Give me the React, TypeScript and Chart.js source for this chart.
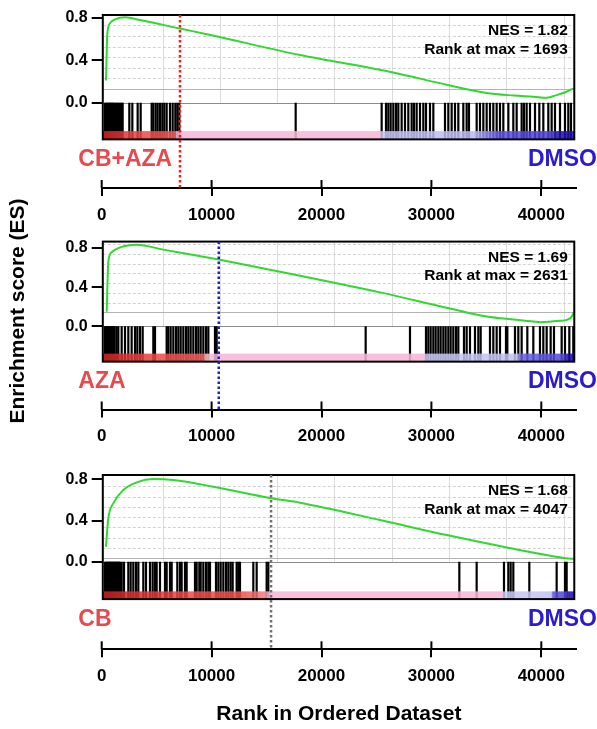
import React, { useEffect, useRef } from 'react';
import { Chart, registerables } from 'chart.js';

Chart.register(...registerables);

const FONT = '"Liberation Sans", Arial, Helvetica, sans-serif';
Chart.defaults.font.family = FONT;

// ---------- shared axis data ----------
const xTickValues = [0, 10000, 20000, 30000, 40000];
const yTickValues = [0, 0.4, 0.8];
const xGridRanks = [5580, 10740, 15940, 21140, 26390, 31590, 36770, 42050];
const X_MAX = 43157;
const BOX_START = 100;
const BOX_END = 43000;

// ---------- panel 1 : CB+AZA vs DMSO ----------
const p1Labels = ['CB+AZA', 'DMSO'];
const p1Stats = ['NES = 1.82', 'Rank at max = 1693'];
const p1Curve = [
  [390, 0.21], [450, 0.45], [510, 0.65], [755, 0.75], [1210, 0.787], [2120, 0.806],
  [3485, 0.78], [7125, 0.70], [10000, 0.637], [18050, 0.45], [26300, 0.29], [31500, 0.167],
  [35000, 0.092], [37500, 0.068], [39300, 0.057], [40500, 0.047], [41400, 0.072],
  [42300, 0.104], [42950, 0.136],
];
const p1Hits = [
  300, 380, 460, 540, 620, 700, 780, 860, 940, 1020, 1100, 1180, 1301, 1400, 1513, 1600, 1725,
  1820, 1907, 2514, 2787, 3272, 3545, 4546, 4698, 4910, 5092, 5305, 5517, 5699, 5911, 6214,
  6457, 6700, 6882, 7064, 17650, 25474, 25868, 26080, 26293, 26535, 26778, 26990, 27293, 27597,
  27900, 28204, 28416, 28658, 28962, 29265, 29508, 29872, 30175, 31237, 31540, 31843, 32146,
  32450, 32905, 33208, 33420, 34118, 34421, 34725, 35028, 35331, 35634, 35938, 36241, 36544,
  37000, 37454, 37758, 38212, 38425, 38667, 38971, 39426, 39820, 40184, 40639, 40942, 41245,
  41700, 42155, 42458, 42701,
];
const p1Zero = 0.129;
const p1EsGrid = [0.229, 0.329, 0.429, 0.529, 0.629, 0.729];
const p1Cut = 7125;
const p1Stops: [number, string][] = [
  [100, '#d42222'], [3500, '#f04545'], [6700, '#f25a5a'], [6800, '#f8b4d6'], [25450, '#f8b4d6'],
  [25550, '#c6c6f6'], [34000, '#b8b8f4'], [36300, '#5a50e4'], [41000, '#4a40dc'],
  [41400, '#2010b4'], [43000, '#2010b4'],
];

// ---------- panel 2 : AZA vs DMSO ----------
const p2Labels = ['AZA', 'DMSO'];
const p2Stats = ['NES = 1.69', 'Rank at max = 2631'];
const p2Curve = [
  [455, 0.148], [600, 0.658], [910, 0.757], [1665, 0.806], [3185, 0.833], [5605, 0.783],
  [10650, 0.681], [18045, 0.517], [25325, 0.346], [31700, 0.181], [35035, 0.099],
  [37500, 0.068], [39275, 0.049], [39885, 0.042], [41700, 0.055], [42315, 0.065],
  [42770, 0.099], [42950, 0.14],
];
const p2Hits = [
  300, 380, 460, 540, 620, 700, 780, 860, 940, 1020, 1100, 1180, 1362, 1513, 1817, 2120, 2423,
  2726, 3030, 3242, 3485, 3727, 4698, 4850, 5911, 6063, 6275, 6518, 6760, 6973, 7185, 7428,
  7671, 7882, 8095, 8337, 8580, 8792, 9005, 9247, 9490, 9702, 10309, 10460, 24018, 28052,
  29508, 29720, 29932, 30175, 30387, 30630, 30842, 31085, 31297, 31540, 31752, 31995, 32237,
  32450, 32965, 33208, 33511, 33966, 34270, 34482, 35331, 35634, 35938, 36241, 36787, 36908,
  37606, 37909, 38212, 38728, 39274, 39880, 40184, 40487, 40851, 41154, 41852, 42155, 42549,
  42913,
];
const p2Zero = 0.141;
const p2EsGrid = [0.241, 0.341, 0.441, 0.541, 0.641, 0.741, 0.841];
const p2Cut = 10650;
const p2Stops: [number, string][] = [
  [100, '#d42222'], [5000, '#f04545'], [9300, '#f26060'], [9450, '#f9c0c8'], [10400, '#f8b4d6'],
  [29350, '#f8b4d6'], [29450, '#c8c8f6'], [37800, '#c0c0f4'], [38100, '#6a60e6'],
  [42000, '#5048dc'], [42400, '#1c0cb0'], [43000, '#1c0cb0'],
];

// ---------- panel 3 : CB vs DMSO ----------
const p3Labels = ['CB', 'DMSO'];
const p3Stats = ['NES = 1.68', 'Rank at max = 4047'];
const p3Curve = [
  [390, 0.146], [600, 0.421], [1055, 0.567], [1965, 0.696], [3185, 0.771], [4695, 0.803],
  [6515, 0.793], [10155, 0.728], [15470, 0.616], [18045, 0.573], [25325, 0.405],
  [31395, 0.259], [36545, 0.146], [41705, 0.043], [42770, 0.029], [42950, 0.029],
];
const p3Hits = [
  300, 380, 460, 540, 620, 700, 780, 860, 940, 1020, 1100, 1180, 1260, 1340, 1420, 1500, 1580,
  1660, 1817, 2029, 2423, 2635, 2878, 3121, 3333, 3788, 4031, 4395, 4637, 4850, 5001, 5304,
  5759, 5911, 6214, 6366, 6881, 7124, 7276, 7579, 7731, 8489, 8641, 8883, 9005, 9247, 9490,
  9702, 9854, 10400, 10612, 10824, 11067, 11310, 11522, 11734, 11916, 12280, 12432, 12583,
  13796, 14100, 15010, 15162, 32541, 34118, 36605, 36999, 37211, 37454, 38910, 41397, 42155,
  42307,
];
const p3Zero = 0.033;
const p3EsGrid = [0.133, 0.233, 0.333, 0.433, 0.533, 0.633, 0.733];
const p3Cut = 15410;
const p3Stops: [number, string][] = [
  [100, '#cc2020'], [8000, '#f04848'], [13000, '#f25050'], [14900, '#f28080'], [15100, '#f8b4d6'],
  [36450, '#f8b4d6'], [36550, '#c8c8f6'], [40900, '#c0c0f4'], [41050, '#5a50e2'],
  [42300, '#4a40dc'], [42450, '#1c0cb0'], [43000, '#1c0cb0'],
];

type Panel = {
  labels: string[];
  stats: string[];
  curve: number[][];
  hits: number[];
  zero: number;
  esGrid: number[];
  cut: number;
  cutColor: string;
  stops: [number, string][];
  canvasTop: number;
  canvasHeight: number;
  padTop: number;
  xAxisHeight: number;
  yMin: number;
  yMax: number;
  barTop: number;
  boxBottom: number;
  xTitle: boolean;
};

const panels: Panel[] = [
  {
    labels: p1Labels, stats: p1Stats, curve: p1Curve, hits: p1Hits, zero: p1Zero, esGrid: p1EsGrid,
    cut: p1Cut, cutColor: '#ff1a1a', stops: p1Stops,
    canvasTop: 0, canvasHeight: 228, padTop: 15, xAxisHeight: 40,
    yMin: -0.805, yMax: 0.828, barTop: -0.268, boxBottom: -0.346, xTitle: false,
  },
  {
    labels: p2Labels, stats: p2Stats, curve: p2Curve, hits: p2Hits, zero: p2Zero, esGrid: p2EsGrid,
    cut: p2Cut, cutColor: '#2020d0', stops: p2Stops,
    canvasTop: 228, canvasHeight: 220, padTop: 7.7, xAxisHeight: 38.5,
    yMin: -0.851, yMax: 0.865, barTop: -0.28, boxBottom: -0.362, xTitle: false,
  },
  {
    labels: p3Labels, stats: p3Stats, curve: p3Curve, hits: p3Hits, zero: p3Zero, esGrid: p3EsGrid,
    cut: p3Cut, cutColor: '#707070', stops: p3Stops,
    canvasTop: 448, canvasHeight: 281, padTop: 27, xAxisHeight: 79.7,
    yMin: -0.849, yMax: 0.842, barTop: -0.287, boxBottom: -0.362, xTitle: true,
  },
];

const RED = '#e64a4e';
const BLUE = '#2a1ccc';

function seg(ctx: CanvasRenderingContext2D, x1: number, y1: number, x2: number, y2: number) {
  ctx.beginPath();
  ctx.moveTo(x1, y1);
  ctx.lineTo(x2, y2);
  ctx.stroke();
}

function makePlugin(p: Panel) {
  return {
    id: 'gseaDecor',
    beforeDatasetsDraw(chart: any) {
      const { ctx, chartArea } = chart;
      const x = chart.scales.x;
      const y = chart.scales.y;
      const left = x.getPixelForValue(BOX_START);
      const right = x.getPixelForValue(BOX_END);
      const top = chartArea.top;
      const zeroPx = y.getPixelForValue(0);
      ctx.save();
      ctx.lineWidth = 1;
      ctx.strokeStyle = '#dcdcdc';
      for (const r of xGridRanks) {
        const px = Math.round(x.getPixelForValue(r)) + 0.5;
        seg(ctx, px, top, px, zeroPx);
      }
      ctx.setLineDash([3, 2]);
      ctx.strokeStyle = '#d2d2d2';
      for (const v of p.esGrid) {
        const py = Math.round(y.getPixelForValue(v)) + 0.5;
        seg(ctx, left, py, right, py);
      }
      ctx.setLineDash([]);
      ctx.strokeStyle = '#b4b4b4';
      const zp = Math.round(y.getPixelForValue(p.zero)) + 0.5;
      seg(ctx, left, zp, right, zp);
      ctx.strokeStyle = '#8c8c8c';
      const sp = Math.round(zeroPx) + 0.5;
      seg(ctx, left, sp, right, sp);
      ctx.restore();
    },
    afterDatasetsDraw(chart: any) {
      const { ctx, chartArea } = chart;
      const x = chart.scales.x;
      const y = chart.scales.y;
      const left = x.getPixelForValue(BOX_START);
      const right = x.getPixelForValue(BOX_END);
      const top = chartArea.top;
      const yb0 = y.getPixelForValue(p.barTop);
      const yb1 = y.getPixelForValue(p.boxBottom);
      ctx.save();
      // colour bar (ranked metric)
      const s0 = x.getPixelForValue(p.stops[0][0]);
      const s1 = x.getPixelForValue(p.stops[p.stops.length - 1][0]);
      const g = ctx.createLinearGradient(s0, 0, s1, 0);
      for (const [r, c] of p.stops) {
        g.addColorStop(Math.min(1, Math.max(0, (x.getPixelForValue(r) - s0) / (s1 - s0))), c);
      }
      ctx.globalAlpha = 0.86;
      ctx.fillStyle = g;
      ctx.fillRect(s0, yb0, s1 - s0, yb1 - yb0);
      ctx.globalAlpha = 1;
      // frame
      ctx.strokeStyle = '#000';
      ctx.lineWidth = 2;
      ctx.strokeRect(left, top, right - left, yb1 - top);
      // dotted cut line
      ctx.strokeStyle = p.cutColor;
      ctx.lineWidth = 2.5;
      ctx.setLineDash([2.5, 2.5]);
      const cx = x.getPixelForValue(p.cut);
      seg(ctx, cx, top, cx, chartArea.bottom);
      ctx.setLineDash([]);
      // upper halves of x tick marks
      ctx.strokeStyle = '#000';
      ctx.lineWidth = 2;
      for (const t of x.ticks) {
        const px = x.getPixelForValue(t.value);
        seg(ctx, px, chartArea.bottom - 8, px, chartArea.bottom);
      }
      // phenotype labels
      ctx.font = `bold 23px ${FONT}`;
      ctx.textBaseline = 'alphabetic';
      ctx.fillStyle = RED;
      ctx.textAlign = 'left';
      ctx.fillText(p.labels[0], chartArea.left - 23.4, yb1 + 26.5);
      ctx.fillStyle = BLUE;
      ctx.textAlign = 'right';
      ctx.fillText(p.labels[1], chart.width, yb1 + 26.5);
      // stats
      ctx.font = `bold 15.5px ${FONT}`;
      ctx.fillStyle = '#000';
      ctx.textAlign = 'right';
      ctx.fillText(p.stats[0], right - 6.5, top + 20);
      ctx.fillText(p.stats[1], right - 6.5, top + 38.5);
      ctx.restore();
    },
  };
}

function buildConfig(p: Panel): any {
  return {
    type: 'line',
    data: {
      datasets: [
        {
          type: 'line',
          data: p.curve.map(([r, v]) => ({ x: r, y: v })),
          borderColor: '#30d830',
          borderWidth: 2,
          pointRadius: 0,
          fill: false,
          cubicInterpolationMode: 'monotone',
          order: 0,
        },
        {
          type: 'scatter',
          data: p.hits.map((r) => ({ x: r, y: p.boxBottom / 2 })),
          pointStyle: 'line',
          rotation: 90,
          radius: (c: any) => {
            const ys = c.chart.scales && c.chart.scales.y;
            if (!ys) return 18;
            return Math.abs(ys.getPixelForValue(p.boxBottom) - ys.getPixelForValue(0)) / 2;
          },
          borderColor: '#000',
          borderWidth: 2.2,
          showLine: false,
          order: 1,
        },
      ],
    },
    options: {
      responsive: false,
      animation: false,
      events: [],
      layout: { padding: { top: p.padTop, right: 21, bottom: 0, left: 0 } },
      plugins: {
        legend: { display: false },
        tooltip: { enabled: false },
        title: { display: false },
      },
      scales: {
        x: {
          type: 'linear',
          min: 0,
          max: X_MAX,
          afterBuildTicks: (s: any) => {
            s.ticks = xTickValues.map((v) => ({ value: v }));
          },
          afterFit: (s: any) => {
            s.height = p.xAxisHeight;
          },
          grid: { drawOnChartArea: false, drawTicks: true, tickLength: 8, color: '#000', lineWidth: 2 },
          border: { display: true, color: '#000', width: 2 },
          ticks: {
            color: '#000',
            font: { size: 17, weight: 'bold' },
            padding: 9,
            maxRotation: 0,
            autoSkip: false,
            callback: (v: any) => String(v),
          },
          title: p.xTitle
            ? {
                display: true,
                text: 'Rank in Ordered Dataset',
                color: '#000',
                font: { size: 21, weight: 'bold' },
                padding: { top: 0, bottom: 2.5 },
              }
            : { display: false },
        },
        y: {
          type: 'linear',
          min: p.yMin,
          max: p.yMax,
          afterBuildTicks: (s: any) => {
            s.ticks = yTickValues.map((v) => ({ value: v }));
          },
          afterFit: (s: any) => {
            s.width = 101.7;
          },
          grid: { drawOnChartArea: false, drawTicks: true, tickLength: 10, color: '#000', lineWidth: 2 },
          border: { display: false },
          ticks: {
            color: '#000',
            font: { size: 16, weight: 'bold' },
            padding: 4,
            callback: (v: any) => Number(v).toFixed(1),
          },
        },
      },
    },
    plugins: [makePlugin(p)],
  };
}

function PanelChart({ p }: { p: Panel }) {
  const ref = useRef<HTMLCanvasElement>(null);
  useEffect(() => {
    if (!ref.current) return;
    const chart = new Chart(ref.current, buildConfig(p));
    return () => chart.destroy();
  }, [p]);
  return (
    <canvas
      ref={ref}
      width={597}
      height={p.canvasHeight}
      style={{ position: 'absolute', left: 0, top: p.canvasTop, width: 597, height: p.canvasHeight, display: 'block' }}
    />
  );
}

export default function App() {
  return (
    <div style={{ position: 'absolute', left: 0, top: 0, width: 597, height: 729, background: '#fff', overflow: 'hidden' }}>
      {panels.map((p, i) => (
        <PanelChart key={i} p={p} />
      ))}
      <div
        style={{
          position: 'absolute',
          left: 19 - 150,
          top: 311 - 14,
          width: 300,
          height: 28,
          lineHeight: '28px',
          textAlign: 'center',
          transform: 'rotate(-90deg)',
          font: `bold 21px ${FONT}`,
          color: '#000',
          whiteSpace: 'nowrap',
        }}
      >
        Enrichment score (ES)
      </div>
    </div>
  );
}
